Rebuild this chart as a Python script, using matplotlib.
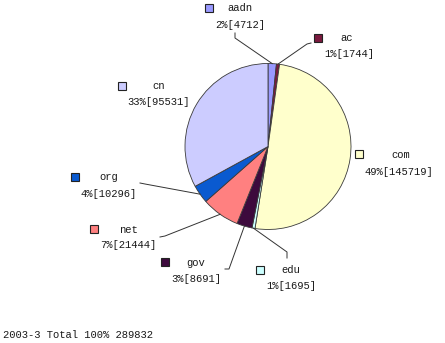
import numpy as np
import matplotlib
matplotlib.use("Agg")
import matplotlib.pyplot as plt
from matplotlib.patches import Rectangle

W, H = 445, 343

# data (2003-3 domain counts)
domains = ["aadn", "ac", "com", "edu", "gov", "net", "org", "cn"]
counts = [4712, 1744, 145719, 1695, 8691, 21444, 10296, 95531]
pct_shown = [2, 1, 49, 1, 3, 7, 4, 33]  # as printed (excel forces sum to 100)
colors = ["#9999ff", "#7a1a3e", "#ffffcc", "#ccffff",
          "#3d0a3d", "#ff8080", "#0a5ad0", "#ccccff"]
total_label = "2003-3 Total 100% 289832"

# label layout in pixel coords (y down): square, name, value line
label_pos = {
    "aadn": ((209, 8), (240, 8), (240, 25)),
    "ac":   ((318, 38), (347, 38), (349, 54)),
    "com":  ((359, 154), (401, 155), (399, 172)),
    "edu":  ((260, 270), (291, 270), (291, 286)),
    "gov":  ((165, 262), (196, 263), (196, 279)),
    "net":  ((94, 229), (128, 230), (128, 245)),
    "org":  ((75, 177), (109, 177), (109, 194)),
    "cn":   ((122, 86), (159, 86), (159, 102)),
}
# leader elbows (pixel coords), drawn from the wedge edge
leaders = {
    "aadn": [(235, 38), (235, 33)],
    "ac":   [(307, 44), (311, 43)],
    "edu":  [(287, 252), (287, 258)],
    "gov":  [(229, 269), (225, 269)],
    "net":  [(165, 236), (160, 237)],
    "org":  [(145, 184), (140, 183)],
}

CENTER = (268, 146.5)
RADIUS = 83
FONT = "Liberation Mono"
FS = 7.6


def px(x, y):
    return x, H - y


fig = plt.figure(figsize=(W / 100, H / 100), dpi=100)
ax = fig.add_axes([0, 0, 1, 1])
ax.set_xlim(0, W)
ax.set_ylim(0, H)
ax.set_aspect("equal")
ax.axis("off")

wedges, _ = ax.pie(counts, colors=colors, startangle=90, counterclock=False,
                   center=px(*CENTER), radius=RADIUS,
                   wedgeprops=dict(edgecolor="#3a3a3a", linewidth=0.6))
ax.set_xlim(0, W)
ax.set_ylim(0, H)

for name, wedge, pct, cnt, col in zip(domains, wedges, pct_shown, counts, colors):
    sq, nm, val = label_pos[name]
    sx, sy = px(*sq)
    ax.add_patch(Rectangle((sx - 4, sy - 4), 8, 8, facecolor=col,
                           edgecolor="#222222", linewidth=0.8))
    ax.text(*px(*nm), name, ha="center", va="center", family=FONT,
            fontsize=FS, color="#1a1a1a")
    ax.text(*px(*val), f"{pct}%[{cnt}]", ha="center", va="center",
            family=FONT, fontsize=FS, color="#1a1a1a")

    if name in leaders:
        mid = np.deg2rad((wedge.theta1 + wedge.theta2) / 2)
        cx, cy = wedge.center
        pts = [(cx + RADIUS * np.cos(mid), cy + RADIUS * np.sin(mid))]
        pts += [px(*p) for p in leaders[name]]
        xs, ys = zip(*pts)
        ax.plot(xs, ys, color="#333333", lw=0.7)

ax.text(*px(3, 335), total_label, ha="left", va="center", family=FONT,
        fontsize=FS, color="#1a1a1a")

fig.savefig("out.png", dpi=100, facecolor="white")
